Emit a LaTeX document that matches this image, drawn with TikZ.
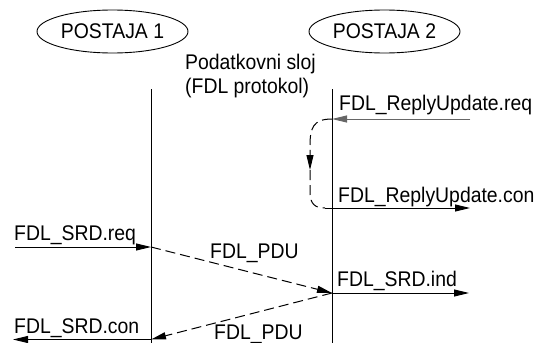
\documentclass[tikz,border=0pt]{standalone}
\usepackage{fontspec}
\setmainfont[FakeStretch=0.915]{Liberation Sans}
\usetikzlibrary{arrows.meta,shapes.geometric}
\begin{document}
\begin{tikzpicture}[x=1pt,y=-1pt,
  every node/.style={font=\fontsize{21.2}{24}\selectfont, inner sep=0pt},
  lbl/.style={anchor=base west},
  station/.style={draw, ellipse, line width=0.9pt, inner sep=0pt,
                  minimum width=151pt, minimum height=43pt},
  life/.style={line width=1pt},
  tip/.style={-{Triangle[length=15pt,width=7pt]}},
  msg/.style={line width=1pt, tip},
  dashline/.style={line width=1pt, dash pattern=on 10pt off 5pt},
  pdu/.style={msg, dashline},
]
\useasboundingbox (0,0) rectangle (539,343);

% stations
\node[station] (s1) at (112.5,31.5) {POSTAJA 1};
\node[station] (s2) at (384.5,31.5) {POSTAJA 2};

\node[lbl] (layer1) at (185,69) {Podatkovni sloj};
\node[lbl] (layer2) at (185,93) {(FDL protokol)};

% lifelines
\coordinate (a0) at (151,89);
\coordinate (a1) at (151,343);
\coordinate (b0) at (332,89);
\coordinate (b1) at (332,343);
\draw[life] (a0) -- (a1);
\draw[life] (b0) -- (b1);

% reply update service at station 2
\coordinate (ru0) at (470,119);
\coordinate (ru1) at (332,119);
\coordinate (rm) at (310,170);
\coordinate (rc0) at (325,208);
\coordinate (rc1) at (470,208);
\node[lbl] (rureq) at (339,110.5) {FDL\_ReplyUpdate.req};
\draw[msg, draw=black!60, fill=black] (ru0) -- (ru1);
\draw[dashline, tip]
  (ru1) .. controls (313,119) and (310,128) .. (310,146) -- (rm);
\draw[dashline]
  (rm) -- (310,192) .. controls (310,205) and (316,208) .. (rc0);
\node[lbl] (rucon) at (338,202.5) {FDL\_ReplyUpdate.con};
\draw[msg] (rc0) -- (rc1);

% send and request data
\coordinate (q0) at (15,247);
\coordinate (q1) at (151,247);
\coordinate (i0) at (332,293);
\coordinate (i1) at (469,293);
\coordinate (c0) at (151,339.5);
\coordinate (c1) at (13,339.5);
\node[lbl] (srdreq) at (14,240) {FDL\_SRD.req};
\draw[msg] (q0) -- (q1);
\draw[pdu] (q1) -- (i0);
\node[lbl] (pdu1) at (210,258) {FDL\_PDU};
\node[lbl] (srdind) at (337,286) {FDL\_SRD.ind};
\draw[msg] (i0) -- (i1);
\draw[pdu] (i0) -- (c0);
\node[lbl] (pdu2) at (214,339) {FDL\_PDU};
\node[lbl] (srdcon) at (14,333) {FDL\_SRD.con};
\draw[msg] (c0) -- (c1);
\end{tikzpicture}
\end{document}
